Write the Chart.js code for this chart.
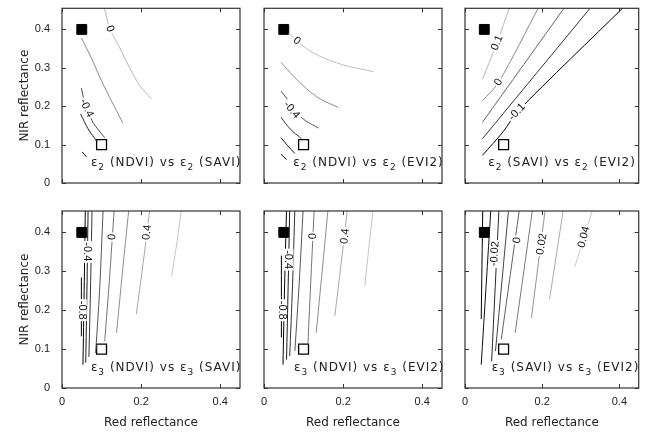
<!DOCTYPE html>
<html>
<head>
<meta charset="utf-8">
<script src="https://cdn.jsdelivr.net/npm/chart.js@4.4.1/dist/chart.umd.min.js"></script>
<style>
  html, body { margin: 0; padding: 0; background: #fff; }
  #wrap { position: relative; width: 647px; height: 434px; overflow: hidden; }
  #wrap canvas { position: absolute; left: 0; top: 0; }
</style>
</head>
<body>
<div id="wrap"></div>
<script>
// axis ticks
const xTicks = [0, 0.2, 0.4];
const yTicks = [0, 0.1, 0.2, 0.3, 0.4];

// the two reference points (red, nir)
const filledSquare = [[0.05, 0.4]];
const openSquare = [[0.1, 0.1]];

// panel names: subscript, index A, index B
const panelNames = [
  ['2', 'NDVI', 'SAVI'], ['2', 'NDVI', 'EVI2'], ['2', 'SAVI', 'EVI2'],
  ['3', 'NDVI', 'SAVI'], ['3', 'NDVI', 'EVI2'], ['3', 'SAVI', 'EVI2']
];

// contour lines, [red, nir] points, highest level first
const e2NdviSavi = [
  [[0.106, 0.46], [0.121, 0.402], [0.146, 0.352], [0.171, 0.30], [0.197, 0.253], [0.226, 0.219]],
  [[0.049, 0.378], [0.074, 0.326], [0.10, 0.266], [0.125, 0.214], [0.154, 0.156]],
  [[0.049, 0.247], [0.056, 0.215], [0.066, 0.185], [0.08, 0.155], [0.108, 0.118]],
  [[0.047, 0.18], [0.066, 0.141], [0.089, 0.107]],
  [[0.051, 0.081], [0.062, 0.068]]
];
const e2NdviEvi2 = [
  [[0.062, 0.391], [0.083, 0.37], [0.116, 0.344], [0.159, 0.322], [0.209, 0.305], [0.277, 0.29]],
  [[0.043, 0.314], [0.074, 0.279], [0.108, 0.245], [0.142, 0.219], [0.188, 0.197]],
  [[0.043, 0.239], [0.062, 0.214], [0.075, 0.19], [0.104, 0.163], [0.138, 0.143]],
  [[0.043, 0.171], [0.066, 0.141], [0.095, 0.115]],
  [[0.043, 0.118], [0.06, 0.097], [0.078, 0.077]],
  [[0.043, 0.075], [0.057, 0.061]]
];
const e2SaviEvi2 = [
  [[0.045, 0.27], [0.083, 0.365], [0.116, 0.46]],
  [[0.045, 0.214], [0.087, 0.262], [0.192, 0.46]],
  [[0.045, 0.158], [0.26, 0.46]],
  [[0.045, 0.115], [0.328, 0.46]],
  [[0.045, 0.072], [0.1, 0.135], [0.135, 0.185], [0.413, 0.46]]
];
const e3NdviSavi = [
  [[0.302, 0.46], [0.29, 0.37], [0.277, 0.287]],
  [[0.222, 0.46], [0.205, 0.32], [0.188, 0.19]],
  [[0.169, 0.46], [0.153, 0.3], [0.138, 0.142]],
  [[0.132, 0.46], [0.12, 0.28], [0.108, 0.12]],
  [[0.104, 0.46], [0.095, 0.25], [0.085, 0.09]],
  [[0.076, 0.46], [0.072, 0.25], [0.068, 0.08]],
  [[0.066, 0.46], [0.063, 0.25], [0.06, 0.065]],
  [[0.059, 0.46], [0.056, 0.25], [0.053, 0.06]],
  [[0.049, 0.284], [0.049, 0.133]]
];
const e3NdviEvi2 = [
  [[0.276, 0.46], [0.265, 0.36], [0.255, 0.263]],
  [[0.211, 0.46], [0.195, 0.32], [0.179, 0.185]],
  [[0.162, 0.46], [0.147, 0.3], [0.132, 0.142]],
  [[0.127, 0.46], [0.119, 0.29], [0.111, 0.112]],
  [[0.099, 0.46], [0.089, 0.27], [0.078, 0.095]],
  [[0.078, 0.46], [0.072, 0.26], [0.065, 0.082]],
  [[0.065, 0.46], [0.061, 0.26], [0.057, 0.073]],
  [[0.057, 0.46], [0.052, 0.26], [0.048, 0.06]],
  [[0.044, 0.34], [0.044, 0.13]]
];
const e3SaviEvi2 = [
  [[0.331, 0.46], [0.284, 0.31]],
  [[0.255, 0.46], [0.219, 0.228]],
  [[0.208, 0.46], [0.172, 0.18]],
  [[0.175, 0.46], [0.13, 0.142]],
  [[0.141, 0.46], [0.094, 0.125]],
  [[0.113, 0.46], [0.079, 0.095]],
  [[0.088, 0.46], [0.069, 0.069]],
  [[0.067, 0.46], [0.042, 0.06]],
  [[0.046, 0.46], [0.042, 0.177]]
];

// contour labels: text, red, nir
const e2NdviSaviLabels = [['0', 0.121, 0.402], ['-0.4', 0.062, 0.195]];
const e2NdviEvi2Labels = [['0', 0.083, 0.37], ['-0.4', 0.07, 0.19]];
const e2SaviEvi2Labels = [['0.1', 0.083, 0.365], ['0', 0.087, 0.262], ['-0.1', 0.135, 0.185]];
const e3NdviSaviLabels = [['0.4', 0.215, 0.40], ['0', 0.127, 0.388], ['-0.4', 0.064, 0.35], ['-0.8', 0.05, 0.2]];
const e3NdviEvi2Labels = [['0.4', 0.205, 0.39], ['0', 0.124, 0.39], ['-0.4', 0.062, 0.33], ['-0.8', 0.045, 0.2]];
const e3SaviEvi2Labels = [['0.04', 0.308, 0.388], ['0.02', 0.199, 0.37], ['0', 0.135, 0.38], ['-0.02', 0.077, 0.345]];

const contours = [e2NdviSavi, e2NdviEvi2, e2SaviEvi2, e3NdviSavi, e3NdviEvi2, e3SaviEvi2];
const labels = [e2NdviSaviLabels, e2NdviEvi2Labels, e2SaviEvi2Labels, e3NdviSaviLabels, e3NdviEvi2Labels, e3SaviEvi2Labels];

// styling
const grays = {
  0: ['#b8b8b8', '#8a8a8a', '#4a4a4a', '#222', '#000'],
  1: ['#bdbdbd', '#8c8c8c', '#555', '#333', '#151515', '#000'],
  2: ['#b5b5b5', '#8a8a8a', '#666', '#333', '#000'],
  3: ['#c4c4c4', '#a8a8a8', '#8c8c8c', '#737373', '#555', '#333', '#1a1a1a', '#000', '#000'],
  4: ['#c4c4c4', '#a8a8a8', '#8c8c8c', '#737373', '#555', '#333', '#1a1a1a', '#000', '#000'],
  5: ['#c8c8c8', '#ababab', '#939393', '#7a7a7a', '#616161', '#444', '#2a2a2a', '#111', '#000']
};
const labelAngles = [
  [69, 65],
  [40, 50],
  [-68, -58, -47],
  [-84, -86, 90, 90],
  [-84, -86, 90, 90],
  [-76, -80, -82, -86]
];
const titleSpots = [[0.073, 0.052], [0.074, 0.052], [0.06, 0.052], [0.073, 0.052], [0.076, 0.052], [0.069, 0.052]];

const panelLeft = [62, 264, 465];
const panelRight = [240, 442, 642];
const panelTop = [7, 211];
const panelBottom = [183, 388];
const ink = '#222';

const framePlugin = {
  id: 'frame',
  afterDatasetsDraw(chart, args, opts) {
    const { ctx, scales: { x, y } } = chart;
    // contour labels
    ctx.save();
    ctx.font = '11px "Liberation Sans"';
    ctx.textAlign = 'center';
    ctx.textBaseline = 'middle';
    opts.labels.forEach((l, k) => {
      ctx.save();
      ctx.translate(x.getPixelForValue(l[1]), y.getPixelForValue(l[2]));
      ctx.rotate(opts.angles[k] * Math.PI / 180);
      const w = ctx.measureText(l[0]).width;
      ctx.fillStyle = '#fff';
      ctx.fillRect(-w / 2 - 1.5, -5, w + 3, 10);
      ctx.fillStyle = '#111';
      ctx.fillText(l[0], 0, 0);
      ctx.restore();
    });
    ctx.restore();

    // panel name with subscripts
    const n = opts.name;
    let px = x.getPixelForValue(opts.spot[0]);
    const py = y.getPixelForValue(opts.spot[1]);
    ctx.save();
    ctx.fillStyle = ink;
    ctx.textBaseline = 'middle';
    ctx.textAlign = 'left';
    try { ctx.letterSpacing = '1px'; } catch (e) {}
    const pieces = [
      ['ε', 0], [n[0], 1], [' (' + n[1] + ') vs ', 0],
      ['ε', 0], [n[0], 1], [' (' + n[2] + ')', 0]
    ];
    pieces.forEach(p => {
      ctx.font = p[1] ? '9px "DejaVu Sans"' : '12px "DejaVu Sans"';
      ctx.fillText(p[0], px, py + (p[1] ? 5 : 0));
      px += ctx.measureText(p[0]).width;
    });
    ctx.restore();
  },
  afterDraw(chart) {
    const { ctx, chartArea: a, scales: { x, y } } = chart;
    ctx.save();
    ctx.strokeStyle = '#333';
    ctx.lineWidth = 1.2;
    ctx.strokeRect(a.left, a.top, a.right - a.left, a.bottom - a.top);
    ctx.beginPath();
    xTicks.forEach(v => {
      const px = Math.round(x.getPixelForValue(v)) + 0.5;
      ctx.moveTo(px, a.bottom); ctx.lineTo(px, a.bottom - 4);
      ctx.moveTo(px, a.top); ctx.lineTo(px, a.top + 4);
    });
    yTicks.forEach(v => {
      const py = Math.round(y.getPixelForValue(v)) + 0.5;
      ctx.moveTo(a.left, py); ctx.lineTo(a.left + 4, py);
      ctx.moveTo(a.right, py); ctx.lineTo(a.right - 4, py);
    });
    ctx.lineWidth = 1;
    ctx.stroke();
    ctx.restore();
  }
};

const toPts = arr => arr.map(p => ({ x: p[0], y: p[1] }));

function makePanel(i) {
  const r = Math.floor(i / 3), c = i % 3;
  const canvas = document.createElement('canvas');
  canvas.width = 647;
  canvas.height = 434;
  document.getElementById('wrap').appendChild(canvas);

  const datasets = contours[i].map((line, j) => ({
    data: toPts(line),
    showLine: true,
    pointRadius: 0,
    borderWidth: 1,
    borderColor: grays[i][j],
    tension: 0.3
  }));
  datasets.push({
    data: toPts(filledSquare),
    pointStyle: 'rect', pointRadius: 7,
    backgroundColor: '#000', borderColor: '#000', borderWidth: 1
  });
  datasets.push({
    data: toPts(openSquare),
    pointStyle: 'rect', pointRadius: 7,
    backgroundColor: '#fff', borderColor: '#000', borderWidth: 1.3
  });

  new Chart(canvas.getContext('2d'), {
    type: 'scatter',
    data: { datasets },
    options: {
      responsive: false,
      animation: false,
      devicePixelRatio: 1,
      layout: {
        padding: {
          left: c === 0 ? 10 : panelLeft[c],
          right: 647 - panelRight[c],
          top: panelTop[r],
          bottom: r === 1 ? 0 : 434 - panelBottom[r]
        }
      },
      plugins: {
        legend: { display: false },
        tooltip: { enabled: false },
        frame: { labels: labels[i], angles: labelAngles[i], name: panelNames[i], spot: titleSpots[i] }
      },
      scales: {
        x: {
          type: 'linear', min: 0, max: 0.45,
          afterBuildTicks: s => { s.ticks = xTicks.map(v => ({ value: v })); },
          afterFit: s => {
            s.height = r === 1 ? 46 : 0;
            s.paddingLeft = 0; s.paddingRight = 0;
          },
          grid: { display: false, drawTicks: false },
          border: { display: false },
          ticks: {
            display: r === 1, padding: 7, color: ink,
            font: { family: 'Liberation Sans', size: 11 },
            callback: v => String(v)
          },
          title: {
            display: r === 1, text: 'Red reflectance', color: ink,
            font: { family: 'DejaVu Sans', size: 12 },
            padding: { top: 0, bottom: 4 }
          }
        },
        y: {
          type: 'linear', min: 0, max: 0.455,
          afterBuildTicks: s => { s.ticks = yTicks.map(v => ({ value: v })); },
          afterFit: s => {
            s.width = c === 0 ? 52 : 0;
            s.paddingTop = 0; s.paddingBottom = 0;
          },
          grid: { display: false, drawTicks: false },
          border: { display: false },
          ticks: {
            display: c === 0, padding: 12, color: ink,
            font: { family: 'Liberation Sans', size: 11 },
            callback: v => String(v)
          },
          title: {
            display: c === 0, text: 'NIR reflectance', color: ink,
            font: { family: 'DejaVu Sans', size: 12 },
            padding: { top: 8, bottom: 0 }
          }
        }
      }
    },
    plugins: [framePlugin]
  });
}

for (let i = 0; i < 6; i++) makePanel(i);
</script>
</body>
</html>
